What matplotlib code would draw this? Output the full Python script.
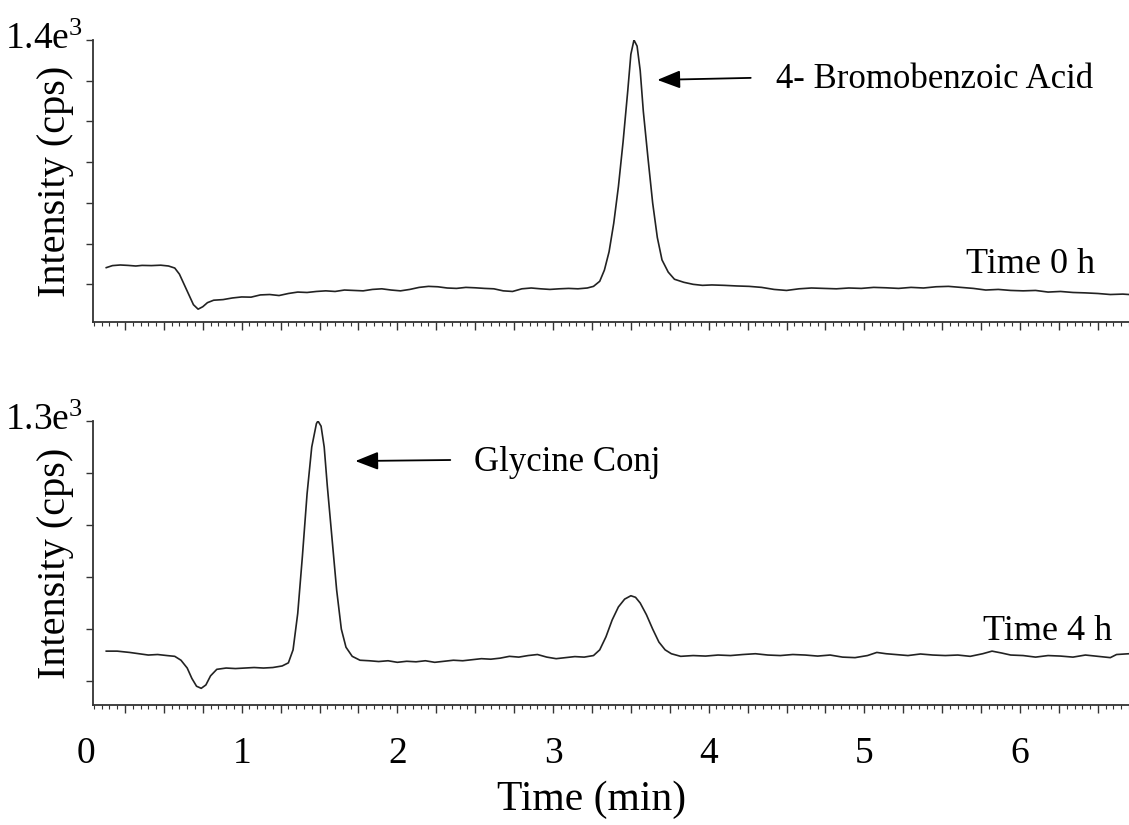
import matplotlib
matplotlib.use("Agg")
import matplotlib.pyplot as plt
from matplotlib.ticker import MultipleLocator, FuncFormatter, FixedLocator
import matplotlib.transforms as mtransforms

plt.rcParams['font.family'] = ['Liberation Serif', 'DejaVu Serif']
plt.rcParams['mathtext.fontset'] = 'custom'
plt.rcParams['mathtext.rm'] = 'Liberation Serif'
plt.rcParams['mathtext.it'] = 'Liberation Serif:italic'

# ---- data: Time 0 h ----
t0 = [0.13, 0.17, 0.22, 0.27, 0.32, 0.36, 0.42, 0.48, 0.53, 0.57, 0.60, 0.63, 0.66, 0.69,
      0.72, 0.75, 0.78, 0.82, 0.88, 0.94, 1.00, 1.06, 1.12, 1.18, 1.24, 1.30, 1.36, 1.42,
      1.48, 1.54, 1.60, 1.66, 1.72, 1.78, 1.84, 1.90, 1.96, 2.02, 2.08, 2.14, 2.20, 2.26,
      2.32, 2.38, 2.44, 2.50, 2.56, 2.62, 2.68, 2.74, 2.80, 2.86, 2.92, 2.98, 3.04, 3.10,
      3.16, 3.22, 3.26, 3.30, 3.33, 3.36, 3.39, 3.42, 3.45, 3.48, 3.50, 3.52, 3.54, 3.56,
      3.58, 3.61, 3.64, 3.67, 3.70, 3.74, 3.78, 3.84, 3.90, 3.96, 4.02, 4.10, 4.18, 4.26,
      4.34, 4.42, 4.50, 4.58, 4.66, 4.74, 4.82, 4.90, 4.98, 5.06, 5.14, 5.22, 5.30, 5.38,
      5.46, 5.54, 5.62, 5.70, 5.78, 5.86, 5.94, 6.02, 6.10, 6.18, 6.26, 6.34, 6.42, 6.50,
      6.58, 6.66, 6.70]
i0 = [282, 292, 295, 293, 290, 293, 292, 294, 290, 280, 250, 200, 150, 100,
      78, 90, 110, 122, 125, 133, 138, 137, 148, 150, 145, 155, 162, 160,
      165, 168, 165, 172, 170, 168, 175, 178, 172, 168, 175, 185, 190, 188,
      182, 180, 185, 183, 180, 178, 168, 165, 178, 182, 178, 175, 178, 180,
      178, 182, 190, 215, 270, 360, 500, 680, 900, 1150, 1330, 1400, 1370, 1250,
      1050, 820, 600, 430, 320, 260, 225, 210, 200, 195, 197, 195, 192, 190,
      185, 175, 170, 178, 182, 180, 178, 182, 180, 185, 183, 180, 185, 182,
      188, 190, 185, 180, 172, 175, 170, 168, 170, 162, 165, 160, 158, 155,
      150, 152, 150]

# ---- data: Time 4 h ----
t4 = [0.13, 0.20, 0.28, 0.34, 0.40, 0.46, 0.52, 0.57, 0.61, 0.65, 0.68, 0.71, 0.74, 0.77,
      0.80, 0.84, 0.90, 0.96, 1.02, 1.08, 1.14, 1.20, 1.26, 1.30, 1.33, 1.36, 1.39, 1.42,
      1.45, 1.48, 1.49, 1.51, 1.53, 1.55, 1.58, 1.61, 1.64, 1.67, 1.71, 1.76, 1.82, 1.88,
      1.94, 2.00, 2.06, 2.12, 2.18, 2.24, 2.30, 2.36, 2.42, 2.48, 2.54, 2.60, 2.66, 2.72,
      2.78, 2.84, 2.90, 2.96, 3.02, 3.08, 3.14, 3.20, 3.26, 3.30, 3.34, 3.38, 3.42, 3.46,
      3.50, 3.53, 3.56, 3.60, 3.64, 3.68, 3.72, 3.76, 3.82, 3.90, 3.98, 4.06, 4.14, 4.22,
      4.30, 4.38, 4.46, 4.54, 4.62, 4.70, 4.78, 4.86, 4.94, 5.02, 5.08, 5.14, 5.20, 5.28,
      5.36, 5.44, 5.52, 5.60, 5.68, 5.76, 5.82, 5.88, 5.94, 6.02, 6.10, 6.18, 6.26, 6.34,
      6.42, 6.50, 6.58, 6.62, 6.70]
i4 = [415, 415, 410, 405, 400, 402, 398, 395, 380, 350, 310, 280, 272, 285,
      320, 345, 350, 348, 350, 352, 350, 352, 358, 370, 420, 560, 780, 1020,
      1200, 1290, 1300, 1280, 1200, 1050, 850, 650, 500, 430, 395, 380, 378, 375,
      378, 372, 376, 374, 378, 372, 376, 380, 378, 382, 386, 384, 388, 395,
      392, 398, 402, 392, 386, 390, 394, 392, 398, 420, 470, 535, 585, 615,
      628, 622, 600, 555, 500, 450, 420, 405, 395, 398, 396, 400, 398, 402,
      405, 400, 398, 402, 400, 396, 400, 392, 390, 398, 410, 405, 402, 398,
      404, 400, 398, 400, 395, 405, 415, 408, 400, 398, 392, 398, 396, 392,
      400, 395, 390, 402, 405]

xticklabels = ["0", "1", "2", "3", "4", "5", "6"]
panel_labels = ["Time 0 h", "Time 4 h"]
peak_labels = ["4- Bromobenzoic Acid", "Glycine Conj"]
top_tick_labels = [r"1.4e$^3$", r"1.3e$^3$"]

fig = plt.figure(figsize=(11.29, 8.25), dpi=100)
ax1 = fig.add_axes([0.0824, 0.6097, 0.9176, 0.3418])
ax2 = fig.add_axes([0.0824, 0.1455, 0.9176, 0.3442])

line_col = '#222222'
spine_col = '#333333'
XMIN, XMAX = 0.045, 6.70

def style(ax, ymin, ymax, ytop, toplabel, show_xlabels):
    ax.set_xlim(XMIN, XMAX)
    ax.set_ylim(ymin, ymax)
    for s in ['top', 'right']:
        ax.spines[s].set_visible(False)
    for s in ['left', 'bottom']:
        ax.spines[s].set_color(spine_col)
        ax.spines[s].set_linewidth(1.3)
    ax.xaxis.set_major_locator(MultipleLocator(0.25))
    ax.xaxis.set_minor_locator(MultipleLocator(0.05))
    if show_xlabels:
        ax.xaxis.set_major_formatter(FuncFormatter(
            lambda v, p: xticklabels[int(round(v))] if abs(v - round(v)) < 1e-6 and 0 <= round(v) < len(xticklabels) else ""))
    else:
        ax.xaxis.set_major_formatter(FuncFormatter(lambda v, p: ""))
    ax.tick_params(axis='x', which='major', length=6, width=1.0, color=spine_col,
                   labelsize=27, pad=17)
    ax.tick_params(axis='x', which='minor', length=3, width=0.8, color=spine_col)
    yt = [ytop - 200 * k for k in range(8) if ytop - 200 * k > ymin]
    ax.yaxis.set_major_locator(FixedLocator(yt))
    ax.yaxis.set_major_formatter(FuncFormatter(lambda v, p: toplabel if abs(v - ytop) < 1e-6 else ""))
    ax.tick_params(axis='y', which='major', length=5, width=1.0, color=spine_col,
                   labelsize=27, pad=2)
    for lab in ax.get_yticklabels():
        lab.set_verticalalignment('center')
    ax.set_ylabel("Intensity (cps)", fontsize=29)
    ax.yaxis.set_label_coords(-0.018, 0.5)
    ax.yaxis.label.set_verticalalignment('bottom')

ax1.plot(t0, i0, color=line_col, lw=1.2)
ax2.plot(t4, i4, color=line_col, lw=1.2)

style(ax1, 15, 1400, 1400, top_tick_labels[0], False)
style(ax2, 208, 1300, 1300, top_tick_labels[1], True)

# "0" label sits just left of the axis start, like the other tick labels
trans0 = mtransforms.blended_transform_factory(ax2.transData, ax2.transAxes)
trans0 = trans0 + mtransforms.ScaledTranslation(0, -(6 + 17) / 72, fig.dpi_scale_trans)
ax2.text(0.0, 0.0, xticklabels[0], transform=trans0, fontsize=27, ha='center', va='top',
         clip_on=False)

arrowprops = dict(arrowstyle='-|>,head_length=1.4,head_width=0.55', color='black', lw=1.3,
                  shrinkA=0, shrinkB=0)
ax1.annotate("", xy=(3.67, 1204), xytext=(4.27, 1214), arrowprops=arrowprops)
ax1.text(4.43, 1204, peak_labels[0], fontsize=25, va='center', ha='left')
ax1.text(5.65, 295, panel_labels[0], fontsize=26, va='center', ha='left')

ax2.annotate("", xy=(1.73, 1146), xytext=(2.34, 1150), arrowprops=arrowprops)
ax2.text(2.49, 1140, peak_labels[1], fontsize=25, va='center', ha='left')
ax2.text(5.76, 492, panel_labels[1], fontsize=26, va='center', ha='left')

fig.text(592 / 1129, 1 - 800 / 825, "Time (min)", fontsize=30, ha='center', va='center')

fig.savefig("out.png", dpi=100)
